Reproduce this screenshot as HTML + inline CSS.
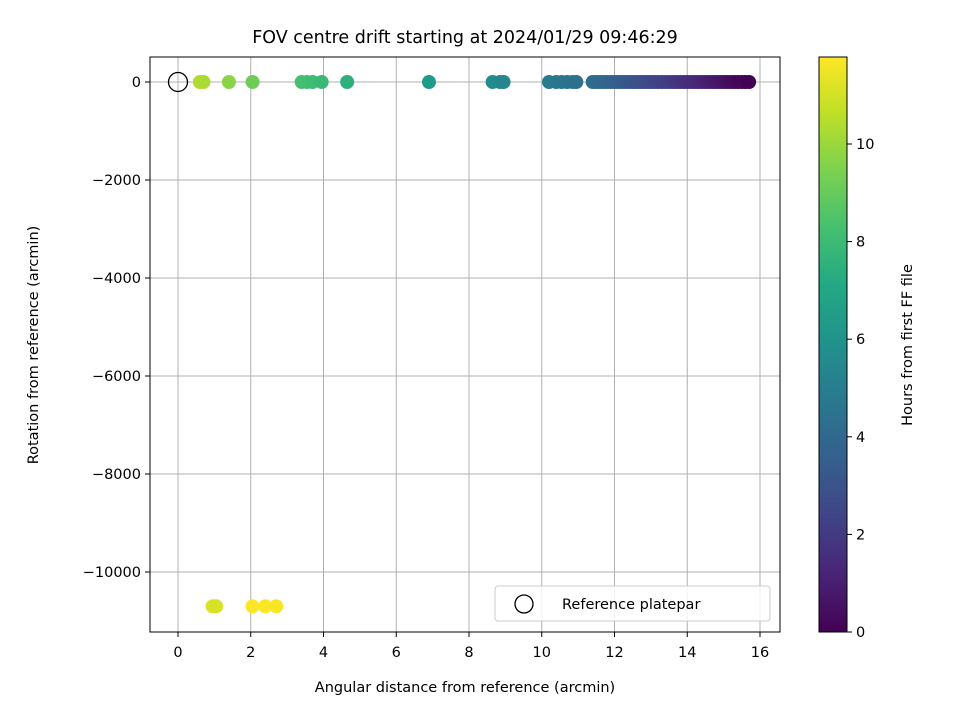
<!DOCTYPE html>
<html><head><meta charset="utf-8"><style>
body{margin:0;background:#fff;}
svg text{font-family:"DejaVu Sans","Liberation Sans",sans-serif;fill:#000;}
</style></head><body>
<svg id="c" width="960" height="720" xmlns="http://www.w3.org/2000/svg">
<defs>
<linearGradient id="vir" x1="0" y1="1" x2="0" y2="0">
<stop offset="0" stop-color="#440154"/><stop offset="0.1" stop-color="#482475"/><stop offset="0.2" stop-color="#414487"/><stop offset="0.3" stop-color="#355f8d"/><stop offset="0.4" stop-color="#2a788e"/><stop offset="0.5" stop-color="#21918c"/><stop offset="0.6" stop-color="#22a884"/><stop offset="0.7" stop-color="#44bf70"/><stop offset="0.8" stop-color="#7ad151"/><stop offset="0.9" stop-color="#bddf26"/><stop offset="1" stop-color="#fde725"/>
</linearGradient>
</defs>
<g id="grid"></g>
<g id="marks"></g>
<rect x="150" y="57" width="630" height="575" fill="none" stroke="#000" stroke-width="1"/>
<g id="axes"></g>
<text x="465" y="43" font-size="17.5" text-anchor="middle">FOV centre drift starting at 2024/01/29 09:46:29</text>
<text x="465" y="692" font-size="14.5" text-anchor="middle">Angular distance from reference (arcmin)</text>
<text transform="translate(38,345) rotate(-90)" font-size="14.5" text-anchor="middle">Rotation from reference (arcmin)</text>
<g>
<rect x="495" y="586" width="275" height="35" rx="3" fill="#fff" fill-opacity="0.85" stroke="#ccc"/>
<circle cx="524" cy="604" r="9" fill="none" stroke="#000" stroke-width="1.3"/>
<text x="562" y="609" font-size="14.5">Reference platepar</text>
</g>
<rect x="819" y="57" width="28" height="575" fill="url(#vir)" stroke="#000"/>
<g id="cbticks"></g>
<text transform="translate(912,345) rotate(-90)" font-size="14.5" text-anchor="middle">Hours from first FF file</text>
</svg>
<script>
const xTicks=[0,2,4,6,8,10,12,14,16];
const yTicks=[0,-2000,-4000,-6000,-8000,-10000];
const cTicks=[0,2,4,6,8,10];
const distX=[0.6,0.7,1.4,2.05,3.4,3.55,3.7,3.95,4.65,6.9,8.65,8.85,8.95,10.2,10.4,10.55,10.7,10.85,10.95,11.4,11.5,11.6,11.7,11.8,11.9,12.0,12.1,12.2,12.3,12.4,12.5,12.6,12.7,12.8,12.9,13.0,13.1,13.2,13.3,13.4,13.5,13.6,13.7,13.8,13.9,14.0,14.1,14.2,14.3,14.4,14.5,14.6,14.7,14.8,14.9,15.0,15.1,15.2,15.3,15.4,15.5,15.6,15.7,0.95,1.05,2.05,2.4,2.7];
const rotY=[0,0,0,0,0,0,0,0,0,0,0,0,0,0,0,0,0,0,0,0,0,0,0,0,0,0,0,0,0,0,0,0,0,0,0,0,0,0,0,0,0,0,0,0,0,0,0,0,0,0,0,0,0,0,0,0,0,0,0,0,0,0,0,-10700,-10700,-10700,-10700,-10700];
const hours=[10.4,10.3,9.7,9.2,8.3,8.2,8.1,7.9,7.5,6.4,5.6,5.5,5.4,4.8,4.7,4.6,4.5,4.4,4.35,4.2,4.1,4.0,3.9,3.8,3.7,3.6,3.5,3.4,3.3,3.2,3.1,3.0,2.9,2.8,2.7,2.6,2.5,2.4,2.3,2.2,2.1,2.0,1.9,1.8,1.7,1.6,1.5,1.4,1.3,1.2,1.1,1.0,0.9,0.8,0.7,0.6,0.5,0.4,0.3,0.2,0.15,0.1,0.0,11.2,11.1,11.8,11.75,11.7];
const cMax=11.8;
const NS="http://www.w3.org/2000/svg";
const xs=v=>178+v*36.375;
const ys=v=>82-v*0.049;
const cs=v=>632-v*48.8;
const stops=[[0,[68,1,84]],[0.1,[72,36,117]],[0.2,[65,68,135]],[0.3,[53,95,141]],[0.4,[42,120,142]],[0.5,[33,145,140]],[0.6,[34,168,132]],[0.7,[68,191,112]],[0.8,[122,209,81]],[0.9,[189,223,38]],[1,[253,231,37]]];
function vir(t){t=Math.max(0,Math.min(1,t));for(let i=1;i<stops.length;i++){if(t<=stops[i][0]){const a=stops[i-1],b=stops[i];const f=(t-a[0])/(b[0]-a[0]);return 'rgb('+a[1].map((c,k)=>Math.round(c+(b[1][k]-c)*f)).join(',')+')';}}return 'rgb(253,231,37)';}
function mk(tag,attrs,parent,txt){const e=document.createElementNS(NS,tag);for(const k in attrs)e.setAttribute(k,attrs[k]);if(txt!==undefined)e.textContent=txt;document.getElementById(parent).appendChild(e);return e;}
xTicks.forEach(t=>{const X=xs(t);
const g=mk('line',{x1:X,x2:X,y1:57,y2:632,stroke:'#b0b0b0','stroke-width':1},'grid');


mk('line',{x1:X,x2:X,y1:632,y2:637,stroke:'#000'},'axes');
const l=mk('text',{x:X,y:657,'font-size':14.5,'text-anchor':'middle'},'axes',String(t));

});
yTicks.forEach(t=>{const Y=ys(t);
const g=mk('line',{x1:150,x2:780,y1:Y,y2:Y,stroke:'#b0b0b0','stroke-width':1},'grid');


mk('line',{x1:145,x2:150,y1:Y,y2:Y,stroke:'#000'},'axes');
const l=mk('text',{x:141,y:Y+5,'font-size':14.5,'text-anchor':'end'},'axes',t===0?'0':'\u2212'+Math.abs(t));

});
cTicks.forEach(t=>{const Y=cs(t);
mk('line',{x1:847,x2:852,y1:Y,y2:Y,stroke:'#000'},'cbticks');
const l=mk('text',{x:856,y:Y+5,'font-size':14.5},'cbticks',String(t));

});
distX.forEach((d,i)=>{
const p=mk('circle',{cx:xs(d),cy:ys(rotY[i]),r:7,fill:vir(hours[i]/cMax)},'marks');

});
const r=mk('circle',{cx:xs(0),cy:ys(0),r:9.5,fill:'none',stroke:'#000','stroke-width':1.3},'marks');


</script>
</body></html>
